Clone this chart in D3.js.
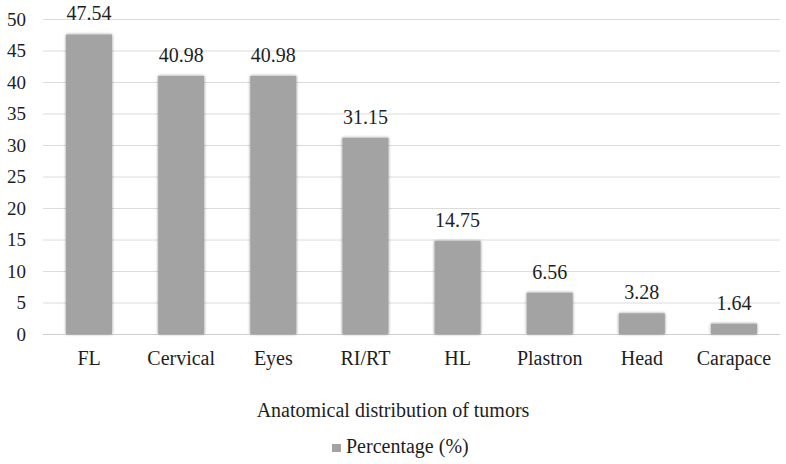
<!DOCTYPE html>
<html><head><meta charset="utf-8">
<script src="https://cdn.jsdelivr.net/npm/d3@7"></script>
<style>body{margin:0;background:#fff}svg{display:block}svg text{font-family:'Liberation Serif','Times New Roman',serif !important;fill:#1e1e1e}</style>
</head><body><svg id="c" width="786" height="464"></svg>
<script>
const categories = ["FL","Cervical","Eyes","RI/RT","HL","Plastron","Head","Carapace"];
const values = [47.54,40.98,40.98,31.15,14.75,6.56,3.28,1.64];
const yTicks = [0,5,10,15,20,25,30,35,40,45,50];
const seriesName = "Percentage (%)";
const xTitle = "Anatomical distribution of tumors";

(function(){
const svg = d3.select("#c");
const W = 786;
const pL = 43, pR = 780, pT = 19, pB = 334;
const x = d3.scaleBand().domain(categories).range([pL,pR]).paddingInner(0.5).paddingOuter(0.25);
const y = d3.scaleLinear().domain([0,50]).range([pB,pT]);

const defs = svg.append("defs");
const f = defs.append("filter").attr("id","sh").attr("x","-20%").attr("y","-20%").attr("width","140%").attr("height","140%");
f.append("feGaussianBlur").attr("in","SourceAlpha").attr("stdDeviation",1.5).attr("result","b");
f.append("feComponentTransfer").attr("in","b").attr("result","o2").append("feFuncA").attr("type","linear").attr("slope",0.45);
const m = f.append("feMerge"); m.append("feMergeNode").attr("in","o2"); m.append("feMergeNode").attr("in","SourceGraphic");

svg.append("g").selectAll("line").data(yTicks).join("line")
  .attr("x1",pL).attr("x2",pR).attr("y1",d=>y(d)+0.5).attr("y2",d=>y(d)+0.5)
  .attr("stroke",d=>d===0?"#cfcfcf":"#dcdcdc").attr("stroke-width",1);

const ya = svg.append("g").attr("transform",`translate(${pL-17},0)`).call(d3.axisLeft(y).tickValues(yTicks).tickSize(0).tickPadding(0));
ya.select(".domain").remove();
ya.selectAll("text").style("font-size","19px").attr("dy","0.34em");

svg.append("g").selectAll("rect").data(values).join("rect")
  .attr("x",(d,i)=>x(categories[i])).attr("width",x.bandwidth())
  .attr("y",d=>y(d)).attr("height",d=>pB-y(d))
  .attr("fill","#a3a3a3").attr("filter","url(#sh)");

svg.append("g").selectAll("text").data(values).join("text")
  .attr("x",(d,i)=>x(categories[i])+x.bandwidth()/2).attr("y",d=>y(d)-14)
  .attr("text-anchor","middle").style("font-size","20px").text(d=>d.toFixed(2));

const xa = svg.append("g").attr("transform",`translate(0,${pB})`).call(d3.axisBottom(x).tickSize(0));
xa.select(".domain").remove();
xa.selectAll("text").style("font-size","20px").attr("y",31).attr("dy",0);

svg.append("text").attr("x",W/2).attr("y",417).attr("text-anchor","middle").style("font-size","20px").text(xTitle);

const lg = svg.append("g").attr("transform","translate(332,453)");
lg.append("rect").attr("x",0).attr("y",-9).attr("width",9).attr("height",8).attr("fill","#a3a3a3");
lg.append("text").attr("x",14).attr("y",0).style("font-size","20px").text(seriesName);
})();
</script></body></html>
